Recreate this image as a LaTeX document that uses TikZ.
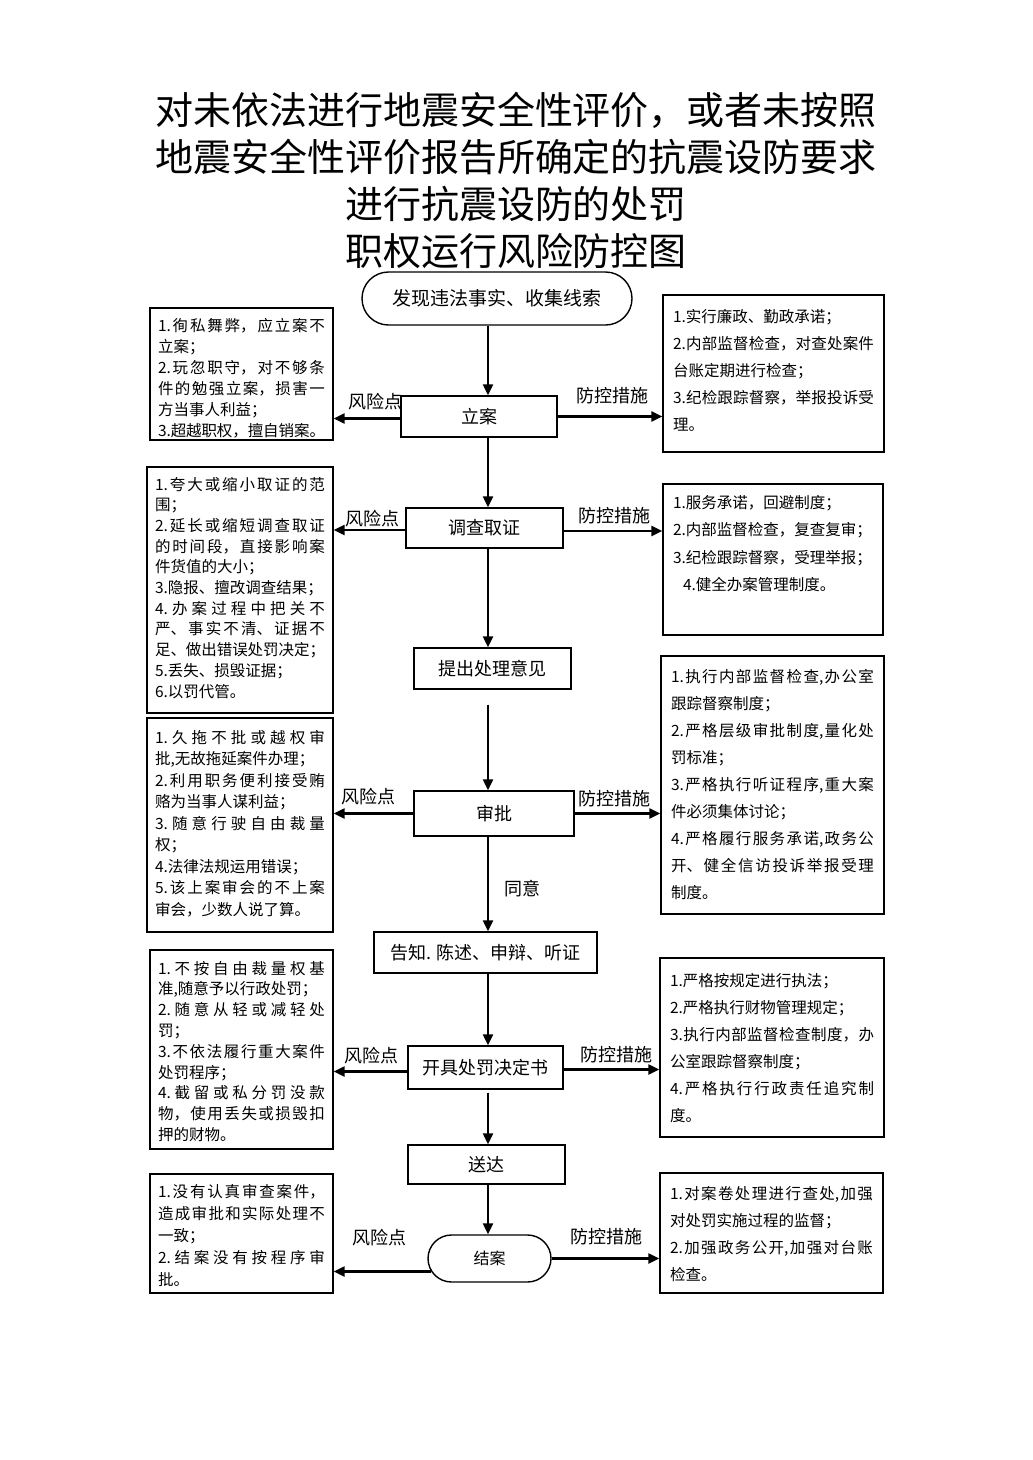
\documentclass[tikz,border=0pt]{standalone}
\usepackage{fontspec}
\setmainfont{Noto Sans CJK SC}
\usetikzlibrary{arrows.meta,shapes.misc}
\XeTeXlinebreaklocale "zh"
\XeTeXlinebreakskip=0pt plus 1pt minus 0.3pt
\newcommand\myfs[2]{\fontsize{#1pt}{#2pt}\selectfont}
\newcommand\boxtxt[5]{\begin{minipage}[t][#2pt][t]{#1pt}\myfs{15.5}{#3}\tolerance=10000\relax\vspace*{#4pt}#5\end{minipage}}
\begin{document}
\begin{tikzpicture}[x=1pt,y=-1pt,
  flow/.style={draw, line width=1.4pt, inner sep=0pt, font=\myfs{18}{22}},
  term/.style={flow, rounded rectangle},
  lbox/.style={draw, line width=1.3pt, inner xsep=8pt, inner ysep=0pt},
  rbox/.style={draw, line width=1.3pt, inner xsep=10pt, inner ysep=0pt},
  arr/.style={line width=2.2pt, -{Triangle[length=11pt,width=10pt]}},
  lab/.style={font=\myfs{18}{22}, inner sep=0pt}]
\useasboundingbox (0,0) rectangle (1033,1460);
\fill[white] (0,0) rectangle (1033,1460);
\coordinate (spine) at (488,0);

% title
\node[align=center, inner sep=0pt, font=\myfs{38}{47}] (title) at (516,180)
  {对未依法进行地震安全性评价，或者未按照\\地震安全性评价报告所确定的抗震设防要求\\进行抗震设防的处罚\\职权运行风险防控图};

% flow nodes
\node[term, minimum width=270pt, minimum height=53pt, font=\myfs{19}{23}] (start) at (497,298.5) {发现违法事实、收集线索};
\node[flow, minimum width=156pt, minimum height=41pt] (lian) at (479,416.5) {立案};
\node[flow, minimum width=157pt, minimum height=40pt] (diaocha) at (484.5,528) {调查取证};
\node[flow, minimum width=157pt, minimum height=41pt] (tichu) at (492.5,668.5) {提出处理意见};
\node[flow, minimum width=160pt, minimum height=45pt] (shenpi) at (494,813.5) {审批};
\node[flow, minimum width=223pt, minimum height=41pt] (gaozhi) at (485.5,952.5) {告知. 陈述、申辩、听证};
\node[flow, minimum width=155pt, minimum height=43pt] (kaiju) at (485.5,1067.5) {开具处罚决定书};
\node[flow, minimum width=157pt, minimum height=39pt] (songda) at (486.5,1164.5) {送达};
\node[term, minimum width=123pt, minimum height=47pt, font=\myfs{16}{20}] (jiean) at (489.5,1258.5) {结案};

% left (risk) boxes
\node[lbox] (L1) at (241.5,374) {\boxtxt{167}{132}{21}{10}{%
1.徇私舞弊，应立案不\linebreak 立案；\par
2.玩忽职守，对不够条\linebreak 件的勉强立案，损害一\linebreak 方当事人利益；\par
3.超越职权，擅自销案。}};
\node[lbox] (L2) at (240,590) {\boxtxt{170}{246}{20.7}{10}{%
1.夸大或缩小取证的范\linebreak 围；\par
2.延长或缩短调查取证\linebreak 的时间段，直接影响案\linebreak 件货值的大小；\par
3.隐报、擅改调查结果；\par
4.办案过程中把关不\linebreak 严、事实不清、证据不\linebreak 足、做出错误处罚决定；\par
5.丢失、损毁证据；\par
6.以罚代管。}};
\node[lbox] (L3) at (240,825) {\boxtxt{170}{214}{21.5}{12}{%
1.久拖不批或越权审\linebreak 批,无故拖延案件办理；\par
2.利用职务便利接受贿\linebreak 赂为当事人谋利益；\par
3.随意行驶自由裁量\linebreak 权；\par
4.法律法规运用错误；\par
5.该上案审会的不上案\linebreak 审会，少数人说了算。}};
\node[lbox] (L4) at (241.5,1049.5) {\boxtxt{167}{199}{20.8}{11}{%
1.不按自由裁量权基\linebreak 准,随意予以行政处罚；\par
2.随意从轻或减轻处\linebreak 罚；\par
3.不依法履行重大案件\linebreak 处罚程序；\par
4.截留或私分罚没款\linebreak 物，使用丢失或损毁扣\linebreak 押的财物。}};
\node[lbox] (L5) at (241.5,1233.5) {\boxtxt{167}{119}{22}{10}{%
1.没有认真审查案件，\linebreak 造成审批和实际处理不\linebreak 一致；\par
2.结案没有按程序审\linebreak 批。}};

% right (control) boxes
\node[rbox] (R1) at (773.5,373.5) {\boxtxt{201}{157}{27}{14}{%
1.实行廉政、勤政承诺；\par
2.内部监督检查，对查处案件\linebreak 台账定期进行检查；\par
3.纪检跟踪督察，举报投诉受\linebreak 理。}};
\node[rbox] (R2) at (773,559.5) {\boxtxt{200}{151}{27.5}{11}{%
1.服务承诺，回避制度；\par
2.内部监督检查，复查复审；\par
3.纪检跟踪督察，受理举报；\par
\hspace*{10pt}4.健全办案管理制度。}};
\node[rbox] (R3) at (772.5,785) {\boxtxt{203}{258}{27.1}{13}{%
1.执行内部监督检查,办公室\linebreak 跟踪督察制度；\par
2.严格层级审批制度,量化处\linebreak 罚标准；\par
3.严格执行听证程序,重大案\linebreak 件必须集体讨论；\par
4.严格履行服务承诺,政务公\linebreak 开、健全信访投诉举报受理\linebreak 制度。}};
\node[rbox] (R4) at (772,1047.5) {\boxtxt{204}{179}{27}{15}{%
1.严格按规定进行执法；\par
2.严格执行财物管理规定；\par
3.执行内部监督检查制度，办\linebreak 公室跟踪督察制度；\par
4.严格执行行政责任追究制\linebreak 度。}};
\node[rbox] (R5) at (771.5,1233) {\boxtxt{203}{120}{27}{13}{%
1.对案卷处理进行查处,加强\linebreak 对处罚实施过程的监督；\par
2.加强政务公开,加强对台账\linebreak 检查。}};

% main flow arrows
\draw[arr] (start.south -| spine) -- (lian.north -| spine);
\draw[arr] (lian.south -| spine) -- (diaocha.north -| spine);
\draw[arr] (diaocha.south -| spine) -- (tichu.north -| spine);
\draw[arr, shorten <=15pt] (tichu.south -| spine) -- (shenpi.north -| spine);
\draw[arr] (shenpi.south -| spine) -- node[lab, right=15pt, pos=0.55] (agree) {同意} (gaozhi.north -| spine);
\draw[arr] (gaozhi.south -| spine) -- (kaiju.north -| spine);
\draw[arr, shorten <=3pt] (kaiju.south -| spine) -- (songda.north -| spine);
\draw[arr] (songda.south -| spine) -- (jiean.north -| spine);

% side arrows
\draw[arr] ([yshift=-2pt]lian.west) -- ([yshift=-2pt]lian.west -| L1.east);
\draw[arr] (lian.east) -- (lian.east -| R1.west);
\draw[arr] ([yshift=-2pt]diaocha.west) -- ([yshift=-2pt]diaocha.west -| L2.east);
\draw[arr] ([yshift=-3pt]diaocha.east) -- ([yshift=-3pt]diaocha.east -| R2.west);
\draw[arr] (shenpi.west) -- (shenpi.west -| L3.east);
\draw[arr] (shenpi.east) -- (shenpi.east -| R3.west);
\draw[arr] ([yshift=-4pt]kaiju.west) -- ([yshift=-4pt]kaiju.west -| L4.east);
\draw[arr] ([yshift=-2pt]kaiju.east) -- ([yshift=-2pt]kaiju.east -| R4.west);
\draw[arr] ([yshift=-13pt,xshift=4pt]jiean.west) -- ([yshift=-13pt]jiean.west -| L5.east);
\draw[arr] (jiean.east) -- (jiean.east -| R5.west);

% labels
\node[lab] (r1) at (375,402) {风险点};
\node[lab] (c1) at (612,396) {防控措施};
\node[lab] (r2) at (372,519) {风险点};
\node[lab] (c2) at (614,516) {防控措施};
\node[lab] (r3) at (368,797) {风险点};
\node[lab] (c3) at (614,799) {防控措施};
\node[lab] (r4) at (371,1056) {风险点};
\node[lab] (c4) at (616,1055) {防控措施};
\node[lab] (r5) at (379,1238) {风险点};
\node[lab] (c5) at (606,1237) {防控措施};
\end{tikzpicture}
\end{document}
